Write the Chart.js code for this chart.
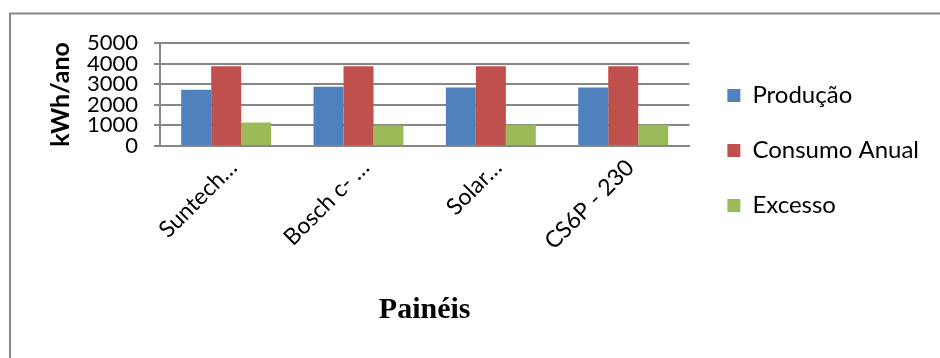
<!DOCTYPE html>
<html>
<head>
<meta charset="utf-8">
<script src="https://cdn.jsdelivr.net/npm/chart.js@4.4.1/dist/chart.umd.min.js"></script>
<style>
  html, body { margin: 0; padding: 0; background: #fff; }
  #wrap { width: 940px; height: 358px; position: relative; }
</style>
</head>
<body>
<div id="wrap"><canvas id="painelChart" width="940" height="358"></canvas></div>
<script>
// Chart values
const categories = ['Suntech…', 'Bosch c- …', 'Solar…', 'CS6P - 230'];
const producao = [2735, 2880, 2835, 2835];
const consumoAnual = [3870, 3870, 3870, 3870];
const excesso = [1135, 990, 1035, 1035];
const yTicks = [0, 1000, 2000, 3000, 4000, 5000];

const grey = '#878787';
const font = 'Lato, Calibri, sans-serif';

// outer frame like the Word chart box
const framePlugin = {
  id: 'frame',
  beforeDraw(chart) {
    const c = chart.ctx;
    c.save();
    c.fillStyle = '#fff';
    c.fillRect(0, 0, chart.width, chart.height);
    c.strokeStyle = grey;
    c.lineWidth = 2;
    c.strokeRect(10, 13.5, chart.width + 20, chart.height + 20);
    c.restore();
  },
  // nudge the legend a little away from the plot
  afterLayout(chart) {
    if (chart.legend) {
      chart.legend.left += 7;
      chart.legend.right += 7;
    }
  }
};

const ctx = document.getElementById('painelChart').getContext('2d');
new Chart(ctx, {
  type: 'bar',
  data: {
    labels: categories,
    datasets: [
      { label: 'Produção', data: producao, backgroundColor: '#4F81BD' },
      { label: 'Consumo Anual', data: consumoAnual, backgroundColor: '#C0504D' },
      { label: 'Excesso', data: excesso, backgroundColor: '#9BBB59' }
    ]
  },
  options: {
    responsive: false,
    animation: false,
    devicePixelRatio: 1,
    layout: { padding: { top: 43, left: 46, right: 18, bottom: 0 } },
    datasets: { bar: { categoryPercentage: 0.68, barPercentage: 1, borderWidth: 0 } },
    plugins: {
      tooltip: { enabled: false },
      legend: {
        position: 'right',
        align: 'start',
        maxWidth: 245,
        title: { display: true, text: '', font: { size: 8 }, padding: { top: 0, bottom: 0 } },
        labels: {
          font: { family: font, size: 24 },
          color: '#000',
          boxWidth: 13,
          boxHeight: 13,
          padding: 31
        }
      }
    },
    scales: {
      x: {
        grid: { display: false },
        border: { display: true, color: grey, width: 2 },
        ticks: {
          font: { family: font, size: 23 },
          color: '#000',
          minRotation: 45,
          maxRotation: 45,
          autoSkip: false,
          padding: 0,
          labelOffset: 7
        },
        title: {
          display: true,
          text: 'Painéis',
          font: { family: '"Liberation Serif", "Times New Roman", serif', size: 30, weight: 'bold' },
          color: '#000',
          padding: { top: 0, bottom: 30 }
        },
        afterFit(scale) { scale.height = 212; }
      },
      y: {
        min: 0,
        max: 5000,
        afterBuildTicks(scale) { scale.ticks = yTicks.map(v => ({ value: v })); },
        grid: { color: grey, lineWidth: 2, tickLength: 6, drawTicks: true },
        border: { display: true, color: grey, width: 2 },
        ticks: {
          font: { family: font, size: 22, lineHeight: 1 },
          color: '#000',
          autoSkip: false,
          padding: 16,
          callback: v => String(v)
        },
        title: {
          display: true,
          text: 'kWh/ano',
          font: { family: font, size: 25, weight: 'bold' },
          color: '#000',
          padding: 0
        },
        afterFit(scale) { scale.width = 114; }
      }
    }
  },
  plugins: [framePlugin]
});
</script>
</body>
</html>
